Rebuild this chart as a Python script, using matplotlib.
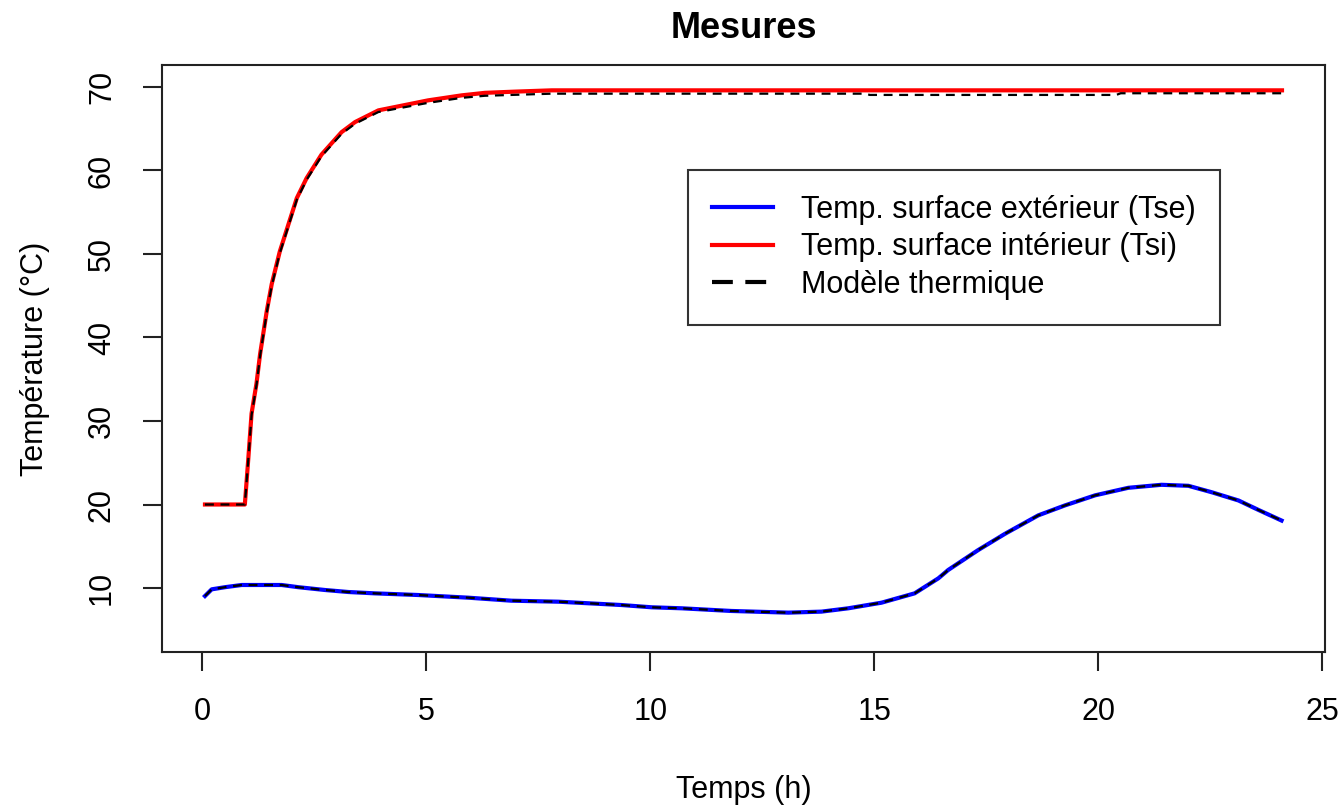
import numpy as np
import matplotlib
matplotlib.use('Agg')
import matplotlib.pyplot as plt
from matplotlib.lines import Line2D

plt.rcParams['font.family'] = ['Liberation Sans', 'DejaVu Sans']

# Temp. surface interieur (Tsi)
t_tsi = [0.06, 0.95, 1.03, 1.10, 1.21, 1.29, 1.44, 1.55, 1.73, 1.92, 2.11, 2.33,
         2.66, 3.11, 3.41, 3.93, 5.04, 5.79, 6.31, 7.0, 7.8, 12.0, 18.0, 24.1]
tsi = [20.0, 20.0, 25.7, 30.9, 34.5, 38.0, 43.2, 46.4, 50.3, 53.5, 56.7, 59.1,
       61.9, 64.6, 65.8, 67.2, 68.4, 69.0, 69.3, 69.45, 69.6, 69.6, 69.6, 69.6]

# Modele thermique (interieur)
t_mod_si = [0.06, 0.95, 1.03, 1.10, 1.21, 1.29, 1.44, 1.55, 1.73, 1.92, 2.11, 2.33,
            2.66, 3.11, 3.41, 3.93, 5.04, 5.79, 6.31, 7.8, 14.8, 14.9, 20.4, 20.5, 24.1]
mod_si = [20.0, 20.0, 25.6, 30.7, 34.3, 37.8, 43.0, 46.2, 50.1, 53.3, 56.5, 58.9,
          61.7, 64.4, 65.6, 67.0, 68.1, 68.7, 68.95, 69.2, 69.2, 69.05, 69.05, 69.25, 69.25]

# Temp. surface exterieur (Tse)
t_tse = [0.06, 0.21, 0.51, 0.88, 1.77, 2.14, 2.74, 3.26, 3.85, 4.82, 5.94, 6.90,
         7.95, 8.62, 9.36, 10.03, 10.7, 11.81, 13.08, 13.82, 14.42, 15.16, 15.9,
         16.43, 16.65, 17.32, 17.92, 18.66, 19.26, 19.93, 20.67, 21.41, 22.01,
         22.53, 23.13, 23.57, 24.09]
tse = [9.04, 9.84, 10.1, 10.36, 10.36, 10.1, 9.76, 9.52, 9.36, 9.16, 8.84, 8.48,
       8.36, 8.17, 7.96, 7.69, 7.57, 7.25, 7.05, 7.17, 7.57, 8.24, 9.36,
       11.16, 12.16, 14.55, 16.5, 18.7, 19.9, 21.1, 22.0, 22.36, 22.24,
       21.47, 20.48, 19.36, 18.08]

# Modele thermique (exterieur) - superposed on the measures
mod_se = [9.04, 9.84, 10.1, 10.36, 10.36, 10.1, 9.76, 9.52, 9.36, 9.16, 8.84, 8.48,
          8.36, 8.17, 7.96, 7.69, 7.57, 7.25, 7.05, 7.17, 7.57, 8.24, 9.36,
          11.16, 12.16, 14.55, 16.5, 18.7, 19.9, 21.1, 22.0, 22.36, 22.24,
          21.47, 20.48, 19.36, 18.08]

fig = plt.figure(figsize=(13.43, 8.08), dpi=100)
ax = fig.add_axes([0.1206, 0.1927, 0.866, 0.7265])

ax.plot(t_tse, tse, color='blue', lw=3)
ax.plot(t_tsi, tsi, color='red', lw=3)
ax.plot(t_tse, mod_se, color='black', lw=1.6, dashes=(4, 3))
ax.plot(t_mod_si, mod_si, color='black', lw=1.6, dashes=(4, 3))

ax.set_xlim(-0.9, 25.06)
ax.set_ylim(2.3, 72.6)
ax.set_xticks([0, 5, 10, 15, 20, 25])
ax.set_yticks([10, 20, 30, 40, 50, 60, 70])
ax.tick_params(labelsize=22, length=13.7, width=1.5, pad=18.7, color='#222222')
for lab in ax.get_yticklabels():
    lab.set_rotation(90)
    lab.set_va('center')
for sp in ax.spines.values():
    sp.set_linewidth(1.5)
    sp.set_color('#222222')

ax.set_xlabel('Temps (h)', fontsize=22, va='center')
ax.xaxis.set_label_coords(0.5, -0.2346)
ax.set_ylabel('Température (°C)', fontsize=22, va='center')
ax.yaxis.set_label_coords(-0.109, 0.5)
ax.set_title('Mesures', fontsize=26, fontweight='bold', y=1.048, va='center')

handles = [Line2D([], [], color='blue', lw=3),
           Line2D([], [], color='red', lw=3),
           Line2D([], [], color='black', lw=3, dashes=(5, 3))]
labels = ['Temp. surface extérieur (Tse)', 'Temp. surface intérieur (Tsi)',
          'Modèle thermique']
leg = ax.legend(handles, labels, loc='upper left', bbox_to_anchor=(0.452, 0.821),
                fontsize=22, frameon=True, fancybox=False, edgecolor='black',
                borderaxespad=0, handlelength=2.0, handletextpad=0.9,
                labelspacing=0.25, borderpad=0.8)
leg.get_frame().set_linewidth(1.5)

fig.savefig('out.png', dpi=100)
